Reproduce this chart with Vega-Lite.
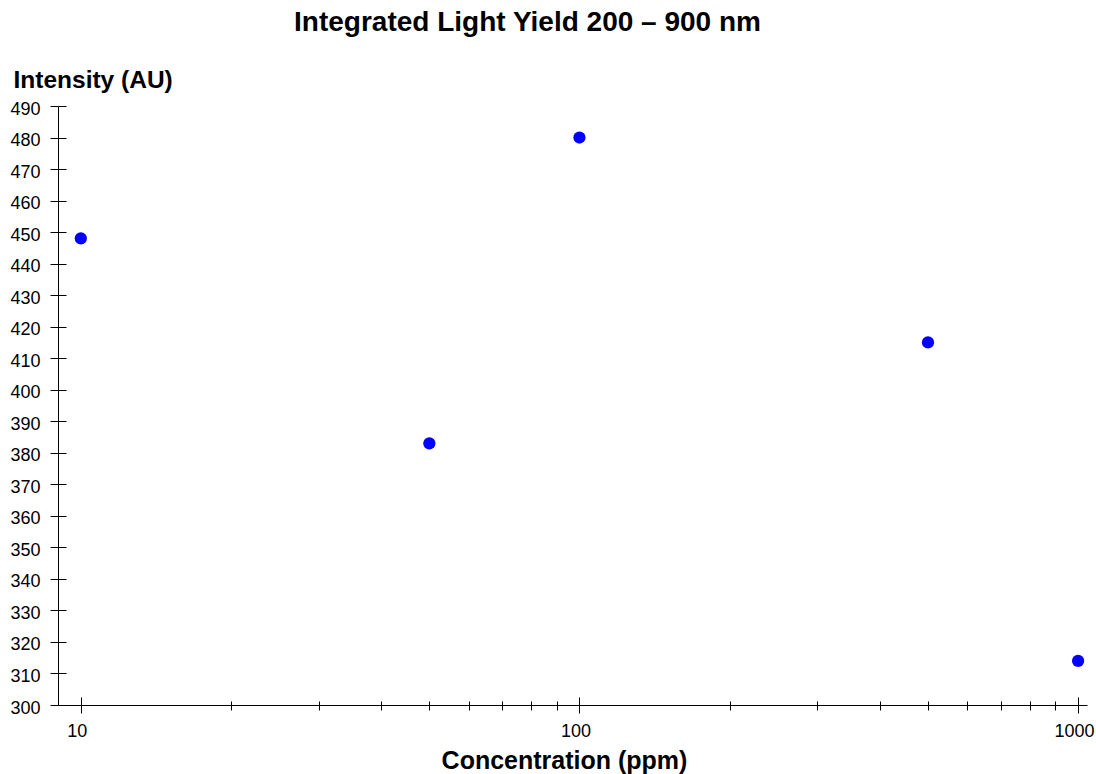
{
  "$schema": "https://vega.github.io/schema/vega-lite/v6.json",
  "autosize": "none",
  "width": 1029,
  "height": 599,
  "padding": {"left": 58, "top": 106, "right": 9, "bottom": 69},
  "background": "white",
  "config": {
    "view": {"stroke": null},
    "font": "Liberation Sans",
    "axis": {"grid": false, "domainColor": "black", "tickColor": "black", "labelColor": "black", "titleColor": "black", "labelFont": "Liberation Sans", "titleFont": "Liberation Sans", "domainWidth": 1, "tickWidth": 1}
  },
  "title": {"text": "Integrated Light Yield 200 – 900 nm", "font": "Liberation Sans", "fontSize": 28, "fontWeight": "bold", "color": "black", "anchor": "middle", "dx": -45, "offset": 30},
  "data": {"values": [
    {"conc": 10, "intensity": 448},
    {"conc": 50, "intensity": 383},
    {"conc": 100, "intensity": 480},
    {"conc": 500, "intensity": 415},
    {"conc": 1000, "intensity": 314}
  ]},
  "layer": [
    {
      "mark": {"type": "point", "filled": true, "opacity": 0},
      "encoding": {
        "x": {"field": "conc", "type": "quantitative", "scale": {"type": "log", "domain": [9, 1042], "nice": false},
          "axis": {"orient": "bottom", "values": [10, 100, 1000], "tickSize": 8, "offset": -8, "labels": false, "domain": false, "title": null}},
        "y": {"field": "intensity", "type": "quantitative", "scale": {"domain": [300, 490], "nice": false, "zero": false},
          "axis": {"orient": "left", "values": [300,310,320,330,340,350,360,370,380,390,400,410,420,430,440,450,460,470,480,490], "tickSize": 8, "offset": -8, "labels": false, "domain": false, "title": null}}
      }
    },
    {
      "mark": {"type": "point", "filled": true, "opacity": 0},
      "encoding": {
        "x": {"field": "conc", "type": "quantitative",
          "axis": {"orient": "bottom", "values": [20,30,40,50,60,70,80,90,200,300,400,500,600,700,800,900], "tickSize": 5, "labels": false, "domain": false, "title": null}},
        "y": {"field": "intensity", "type": "quantitative", "axis": null}
      }
    },
    {
      "mark": {"type": "point", "filled": true, "opacity": 0},
      "encoding": {
        "x": {"field": "conc", "type": "quantitative",
          "axis": {"orient": "bottom", "values": [20,30,40,50,60,70,80,90,200,300,400,500,600,700,800,900], "tickSize": 4, "offset": -4, "labels": false, "domain": false, "title": null}},
        "y": {"field": "intensity", "type": "quantitative", "axis": null}
      }
    },
    {
      "mark": {"type": "point", "filled": true, "color": "#0000ff", "opacity": 1, "size": 150},
      "encoding": {
        "x": {"field": "conc", "type": "quantitative",
          "axis": {"orient": "bottom", "values": [10, 100, 1000], "format": "d", "tickSize": 8, "labelFontSize": 18, "labelPadding": 9, "labelOffset": -4,
            "title": "Concentration (ppm)", "titleFontSize": 25, "titleFontWeight": "bold", "titleX": 506, "titleY": 63, "titleBaseline": "alphabetic", "titleAlign": "center"}},
        "y": {"field": "intensity", "type": "quantitative",
          "axis": {"orient": "left", "values": [300,310,320,330,340,350,360,370,380,390,400,410,420,430,440,450,460,470,480,490], "format": "d", "tickSize": 8, "labelFontSize": 18, "labelPadding": 10, "labelOffset": 3,
            "title": "Intensity (AU)", "titleFontSize": 24.5, "titleFontWeight": "bold", "titleAngle": 0, "titleX": -45, "titleY": -19, "titleAlign": "left", "titleBaseline": "alphabetic"}}
      }
    }
  ],
  "resolve": {"axis": {"x": "independent", "y": "independent"}}
}
